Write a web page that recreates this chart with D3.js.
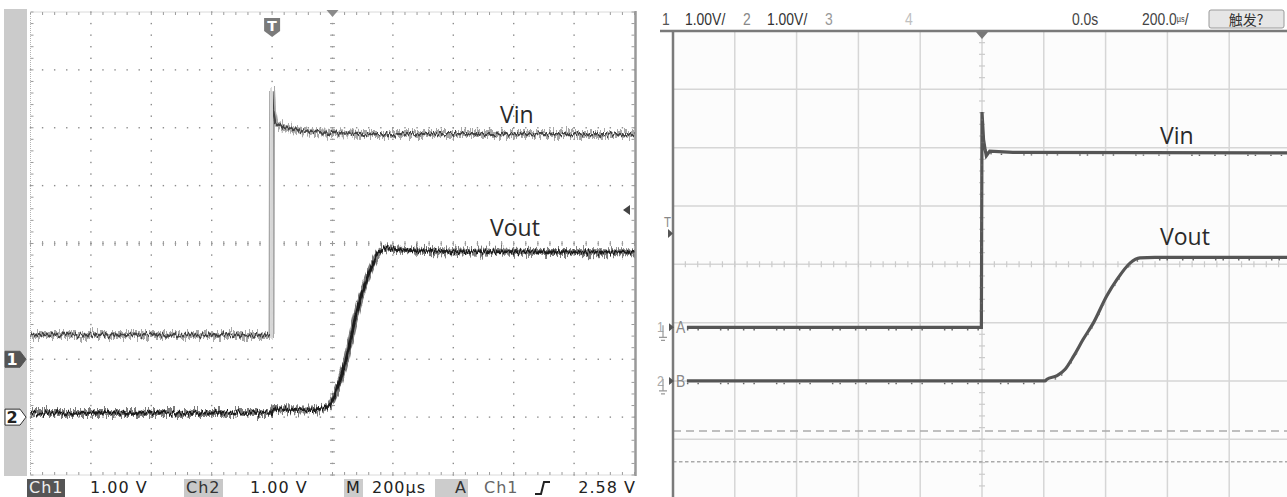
<!DOCTYPE html>
<html>
<head>
<meta charset="utf-8">
<script src="https://cdnjs.cloudflare.com/ajax/libs/d3/7.8.5/d3.min.js"></script>
<style>
  body { margin: 0; background: #fff; }
  svg { display: block; }
</style>
</head>
<body>
<div class="chart"></div>
<script>
// both captures: 1.00 V/div, 200 us/div, time in us from the trigger point
var leftVinT  = [-800, -2, 0, 3, 10, 40, 100, 200, 300, 1200];
var leftVinV  = [0.42, 0.42, 4.65, 4.3, 4.08, 4.01, 3.94, 3.91, 3.89, 3.89];
var leftVoutT = [-800, -2, 2, 150, 175, 195, 225, 247, 269, 291, 313, 329, 351, 379, 425, 600, 1200];
var leftVoutV = [0.07, 0.07, 0.14, 0.13, 0.16, 0.24, 0.64, 1.04, 1.56, 2.02, 2.37, 2.60, 2.83, 2.92, 2.89, 2.86, 2.85];

var rightVinT  = [-955, -2, 0, 5, 10, 14, 25, 100, 1000];
var rightVinV  = [0, 0, 3.69, 3.22, 3.05, 2.94, 3.02, 3.00, 2.99];
var rightVoutT = [-955, 204, 210, 243, 269, 297, 327, 361, 404, 437, 479, 511, 560, 1000];
var rightVoutV = [0, 0, 0.03, 0.09, 0.20, 0.43, 0.71, 1.0, 1.46, 1.74, 2.02, 2.11, 2.12, 2.12];

var leftOffsets = [-2, -3];      // channel ground, in divisions from centre
var rightOffsets = [-1.08, -2.0];
var trigLevel = 2.58;

var leftStatus = ["Ch1", "1.00 V", "Ch2", "1.00 V", "M", "200µs", "A", "Ch1", "2.58 V"];
var rightHeader = ["1", "1.00V/", "2", "1.00V/", "3", "4", "0.0s", "200.0", "µs", "/"];
var traceNames = ["Vin", "Vout"];

var W = 1287, H = 497;
var svg = d3.select(".chart").append("svg").attr("width", W).attr("height", H);
var defs = svg.append("defs");

function noiseFilter(id, seed, scale, fx) {
  var f = defs.append("filter").attr("id", id).attr("filterUnits", "userSpaceOnUse")
    .attr("x", 0).attr("y", 0).attr("width", W).attr("height", H)
    .attr("color-interpolation-filters", "sRGB");
  f.append("feTurbulence").attr("type", "fractalNoise").attr("baseFrequency", fx + " 0.04")
    .attr("numOctaves", 2).attr("seed", seed).attr("result", "n");
  f.append("feColorMatrix").attr("in", "n").attr("type", "matrix")
    .attr("values", "0 0 0 0 0.5  0 1 0 0 0  0 0 1 0 0  0 0 0 0 1").attr("result", "m");
  f.append("feDisplacementMap").attr("in", "SourceGraphic").attr("in2", "m")
    .attr("scale", scale).attr("xChannelSelector", "R").attr("yChannelSelector", "G");
}
noiseFilter("nz1", 3, 16, 0.8);
noiseFilter("nz2", 11, 9, 0.6);

// ---------------- left scope ----------------
var LX0 = 30.5, LX1 = 634.5, LY0 = 12, LY1 = 475;
var lx = d3.scaleLinear().domain([-800, 1200]).range([LX0, LX1]);
var ly = d3.scaleLinear().domain([-4, 4]).range([LY1, LY0]);
var ldx = (LX1 - LX0) / 10, ldy = (LY1 - LY0) / 8;

// fast edge at the trigger point shows up faint on the capture
function edgeGrad(id, dark) {
  var g = defs.append("linearGradient").attr("id", id).attr("gradientUnits", "userSpaceOnUse")
    .attr("x1", 0).attr("x2", W).attr("y1", 0).attr("y2", 0);
  var e0 = (lx(0) - 1.8) / W, e1 = (lx(0) + 1.2) / W;
  [[0, dark], [e0, dark], [e0, "#d6d6d6"], [e1, "#d6d6d6"], [e1, dark], [1, dark]].forEach(function(s) {
    g.append("stop").attr("offset", s[0]).attr("stop-color", s[1]);
  });
}
edgeGrad("vinHalo", "#999");
edgeGrad("vinCore", "#444");

svg.append("rect").attr("x", 4).attr("y", 9).attr("width", 23).attr("height", 467).attr("fill", "#cbcbcb");

var lg = svg.append("g");
var dots = [];
d3.range(1, 10).forEach(function(i) {
  d3.range(0, 41).forEach(function(k) { dots.push([LX0 + i * ldx, LY0 + k * ldy / 5]); });
});
d3.range(1, 8).forEach(function(j) {
  d3.range(0, 51).forEach(function(k) { dots.push([LX0 + k * ldx / 5, LY0 + j * ldy]); });
});
lg.selectAll("rect.dot").data(dots).enter().append("rect")
  .attr("x", function(d) { return d[0] - 0.7; })
  .attr("y", function(d) { return d[1] - 0.7; })
  .attr("width", 1.4).attr("height", 1.4).attr("fill", "#8c8c8c");

// centre ticks + border ticks
var ticks = [];
var cx = LX0 + 5 * ldx, cy = LY0 + 4 * ldy;
d3.range(0, 41).forEach(function(k) {
  var y = LY0 + k * ldy / 5;
  ticks.push([cx - 2.5, y, cx + 2.5, y]);
  ticks.push([LX0, y, LX0 + 3, y]);
  ticks.push([LX1 - 3, y, LX1, y]);
});
d3.range(0, 51).forEach(function(k) {
  var x = LX0 + k * ldx / 5;
  ticks.push([x, cy - 2.5, x, cy + 2.5]);
  ticks.push([x, LY0, x, LY0 + 3]);
  ticks.push([x, LY1 - 3, x, LY1]);
});
lg.selectAll("line.tk").data(ticks).enter().append("line")
  .attr("x1", function(d) { return d[0]; }).attr("y1", function(d) { return d[1]; })
  .attr("x2", function(d) { return d[2]; }).attr("y2", function(d) { return d[3]; })
  .attr("stroke", "#9a9a9a").attr("stroke-width", 1);

lg.append("path").attr("d", "M" + LX0 + "," + LY1 + "V" + LY0 + "H" + LX1)
  .attr("fill", "none").attr("stroke", "#b5b5b5").attr("stroke-width", 1).attr("stroke-dasharray", "1 1");
lg.append("line").attr("x1", LX0).attr("x2", LX1).attr("y1", LY1).attr("y2", LY1)
  .attr("stroke", "#b5b5b5").attr("stroke-dasharray", "1 1");
lg.append("line").attr("x1", LX1 + 1).attr("x2", LX1 + 1).attr("y1", LY0 - 1).attr("y2", LY1 + 1)
  .attr("stroke", "#999").attr("stroke-width", 2.5);

function pts(T, V, off, xs, ys) {
  return d3.zip(T, V).map(function(p) { return [xs(p[0]), ys(p[1] + off)]; });
}
function noisyTrace(p, curve, halo, core, hw, cw) {
  var line = d3.line().curve(curve);
  svg.append("path").attr("d", line(p)).attr("fill", "none").attr("stroke", halo)
    .attr("stroke-width", hw).attr("opacity", 0.85).attr("filter", "url(#nz1)");
  svg.append("path").attr("d", line(p)).attr("fill", "none").attr("stroke", core)
    .attr("stroke-width", cw).attr("filter", "url(#nz2)");
}
noisyTrace(pts(leftVinT, leftVinV, leftOffsets[0], lx, ly), d3.curveLinear, "url(#vinHalo)", "url(#vinCore)", 6, 2.4);
noisyTrace(pts(leftVoutT, leftVoutV, leftOffsets[1], lx, ly), d3.curveMonotoneX, "#666", "#1c1c1c", 6, 2.8);

// trigger point / position / level markers
var tX = lx(0);
svg.append("path").attr("d", "M" + (tX - 8) + ",18H" + (tX + 8) + "V31L" + tX + ",37L" + (tX - 8) + ",31Z").attr("fill", "#7a7a7a");
svg.append("text").attr("x", tX).attr("y", 31).attr("text-anchor", "middle")
  .attr("font-family", "DejaVu Sans").attr("font-size", 14).attr("font-weight", "bold").attr("fill", "#fff").text("T");
svg.append("path").attr("d", "M" + (cx - 6) + ",10H" + (cx + 6) + "L" + cx + ",17Z").attr("fill", "#8a8a8a");
var tlY = ly(trigLevel + leftOffsets[0]);
svg.append("path").attr("d", "M630," + (tlY - 5) + "V" + (tlY + 5) + "L623," + tlY + "Z").attr("fill", "#444");

// channel ground markers
leftOffsets.forEach(function(o, i) {
  var y = ly(o);
  svg.append("path").attr("d", "M5," + (y - 8) + "H20L26," + y + "L20," + (y + 8) + "H5Z")
    .attr("fill", i === 0 ? "#555" : "#fff").attr("stroke", i === 0 ? "#555" : "#333").attr("stroke-width", 1);
  svg.append("text").attr("x", 12).attr("y", y + 6).attr("text-anchor", "middle")
    .attr("font-family", "DejaVu Sans").attr("font-size", 16).attr("font-weight", "bold")
    .attr("fill", i === 0 ? "#fff" : "#222").text(String(i + 1));
});

// status line
var sb = svg.append("g").attr("font-family", "DejaVu Sans").attr("font-size", 16);
var boxes = [[27, 38, "#555"], [184, 39, "#c8c8c8"], [344, 19, "#cccccc"], [435, 33, "#cccccc"]];
sb.selectAll("rect").data(boxes).enter().append("rect")
  .attr("x", function(d) { return d[0]; }).attr("y", 479).attr("width", function(d) { return d[1]; })
  .attr("height", 18).attr("fill", function(d) { return d[2]; });
var sPos = [29, 90, 186, 250, 346, 372, 455, 484, 636];
var sCol = ["#eee", "#222", "#333", "#222", "#222", "#222", "#333", "#666", "#222"];
sb.selectAll("text").data(leftStatus).enter().append("text")
  .attr("x", function(d, i) { return sPos[i]; }).attr("y", 493)
  .attr("text-anchor", function(d, i) { return i === 8 ? "end" : "start"; })
  .attr("letter-spacing", 1)
  .attr("fill", function(d, i) { return sCol[i]; }).text(function(d) { return d; });
sb.append("path").attr("d", "M535,494H541L544,482H550").attr("fill", "none").attr("stroke", "#222").attr("stroke-width", 2);

// ---------------- right scope ----------------
var RX0 = 673, RX1 = 1291, RY0 = 31, RY1 = 497.6;
var rx = d3.scaleLinear().domain([-1000, 1000]).range([RX0, RX1]);
var ry = d3.scaleLinear().domain([-4, 4]).range([RY1, RY0]);
var rdx = (RX1 - RX0) / 10, rdy = (RY1 - RY0) / 8;

svg.append("rect").attr("x", RX0).attr("y", RY0).attr("width", W - RX0).attr("height", H - RY0).attr("fill", "#fcfcfc");
var rg = svg.append("g").attr("stroke", "#d6d6d6").attr("stroke-width", 1.5);
rg.selectAll("line.v").data(d3.range(1, 10)).enter().append("line")
  .attr("x1", function(d) { return RX0 + d * rdx; }).attr("x2", function(d) { return RX0 + d * rdx; })
  .attr("y1", RY0).attr("y2", H);
rg.selectAll("line.h").data(d3.range(1, 8)).enter().append("line")
  .attr("x1", RX0).attr("x2", W)
  .attr("y1", function(d) { return RY0 + d * rdy; }).attr("y2", function(d) { return RY0 + d * rdy; });
var rcx = RX0 + 5 * rdx, rcy = RY0 + 4 * rdy;
rg.selectAll("line.ty").data(d3.range(0, 41)).enter().append("line")
  .attr("x1", rcx - 3).attr("x2", rcx + 3)
  .attr("y1", function(d) { return RY0 + d * rdy / 5; }).attr("y2", function(d) { return RY0 + d * rdy / 5; })
  .attr("stroke", "#cbcbcb").attr("stroke-width", 1.2);
rg.selectAll("line.tx").data(d3.range(0, 51)).enter().append("line")
  .attr("y1", rcy - 3).attr("y2", rcy + 3)
  .attr("x1", function(d) { return RX0 + d * rdx / 5; }).attr("x2", function(d) { return RX0 + d * rdx / 5; })
  .attr("stroke", "#cbcbcb").attr("stroke-width", 1.2);

svg.append("line").attr("x1", RX0).attr("x2", W).attr("y1", 431).attr("y2", 431)
  .attr("stroke", "#aaa").attr("stroke-width", 1.6).attr("stroke-dasharray", "8 5");
svg.append("line").attr("x1", RX0).attr("x2", W).attr("y1", 461.7).attr("y2", 461.7)
  .attr("stroke", "#aaa").attr("stroke-width", 1.6).attr("stroke-dasharray", "3.5 2.5");

svg.append("line").attr("x1", RX0).attr("x2", RX0).attr("y1", RY0).attr("y2", H).attr("stroke", "#7a7a7a").attr("stroke-width", 2.5);
svg.append("line").attr("x1", 660).attr("x2", W).attr("y1", RY0).attr("y2", RY0).attr("stroke", "#7a7a7a").attr("stroke-width", 2.5);
svg.append("path").attr("d", "M" + (rcx - 6) + "," + (RY0 + 1) + "H" + (rcx + 6) + "L" + rcx + "," + (RY0 + 8) + "Z").attr("fill", "#777");

function scopeTrace(p, curve) {
  var line = d3.line().curve(curve);
  svg.append("path").attr("d", line(p)).attr("fill", "none").attr("stroke", "#555").attr("stroke-width", 3.2);
  svg.append("path").attr("d", line(p)).attr("fill", "none").attr("stroke", "#666").attr("stroke-width", 1.4)
    .attr("transform", "translate(0,2.5)").attr("stroke-dasharray", "1.5 9 1.5 21 1.5 6 1.5 14");
}
scopeTrace(pts(rightVinT, rightVinV, rightOffsets[0], rx, ry), d3.curveLinear);
scopeTrace(pts(rightVoutT, rightVoutV, rightOffsets[1], rx, ry), d3.curveMonotoneX);

// narrow instrument font: Liberation Sans squeezed horizontally
var hf = "Liberation Sans, Arial, sans-serif";
function narrowText(x, y, size, col, txt) {
  return svg.append("text").attr("transform", "translate(" + x + "," + y + ") scale(0.82,1)")
    .attr("font-family", hf).attr("font-size", size).attr("fill", col).text(txt);
}

// channel labels on the right screen
["A", "B"].forEach(function(c, i) {
  var y = ry(rightOffsets[i]);
  narrowText(657, y + 5, 15, "#aaa", String(i + 1));
  svg.append("path").attr("d", "M663," + (y - 2) + "V" + (y + 10) + "M659," + (y + 10) + "H667M661," + (y + 13) + "H665")
    .attr("stroke", "#999").attr("stroke-width", 1.2).attr("fill", "none");
  svg.append("path").attr("d", "M669," + (y - 4) + "L674," + y + "L669," + (y + 4) + "Z").attr("fill", "#555");
  narrowText(676, y + 6, 17, "#888", c);
});
narrowText(664, 227, 14, "#888", "T");
svg.append("path").attr("d", "M668,229L673,233.5L668,238Z").attr("fill", "#555");

// header row
var hPos = [662, 685, 743, 767, 825, 905, 1072];
var hCol = ["#555", "#333", "#888", "#333", "#999", "#c0c0c0", "#444"];
rightHeader.slice(0, 7).forEach(function(d, i) { narrowText(hPos[i], 25, 17, hCol[i], d); });
var tb = narrowText(1142, 25, 17, "#444", rightHeader[7]);
tb.append("tspan").attr("font-size", 9).attr("dy", -3).text(rightHeader[8]);
tb.append("tspan").attr("dy", 3).text(rightHeader[9]);
svg.append("rect").attr("x", 1209).attr("y", 10).attr("width", 75).attr("height", 18).attr("rx", 2)
  .attr("fill", "#e6e6e6").attr("stroke", "#9a9a9a");
svg.append("text").attr("x", 1246).attr("y", 24.5).attr("text-anchor", "middle")
  .attr("font-family", "Noto Sans CJK SC").attr("font-size", 14).attr("fill", "#333").text("触发?");

// trace names
var namePos = [[500, 123], [490, 236], [1160, 144], [1160, 245]];
svg.selectAll("text.nm").data(namePos).enter().append("text")
  .attr("x", function(d) { return d[0]; }).attr("y", function(d) { return d[1]; })
  .attr("font-family", "Open Sans").attr("font-size", 23).attr("fill", "#2a2a2a")
  .text(function(d, i) { return traceNames[i % 2]; });
</script>
</body>
</html>
